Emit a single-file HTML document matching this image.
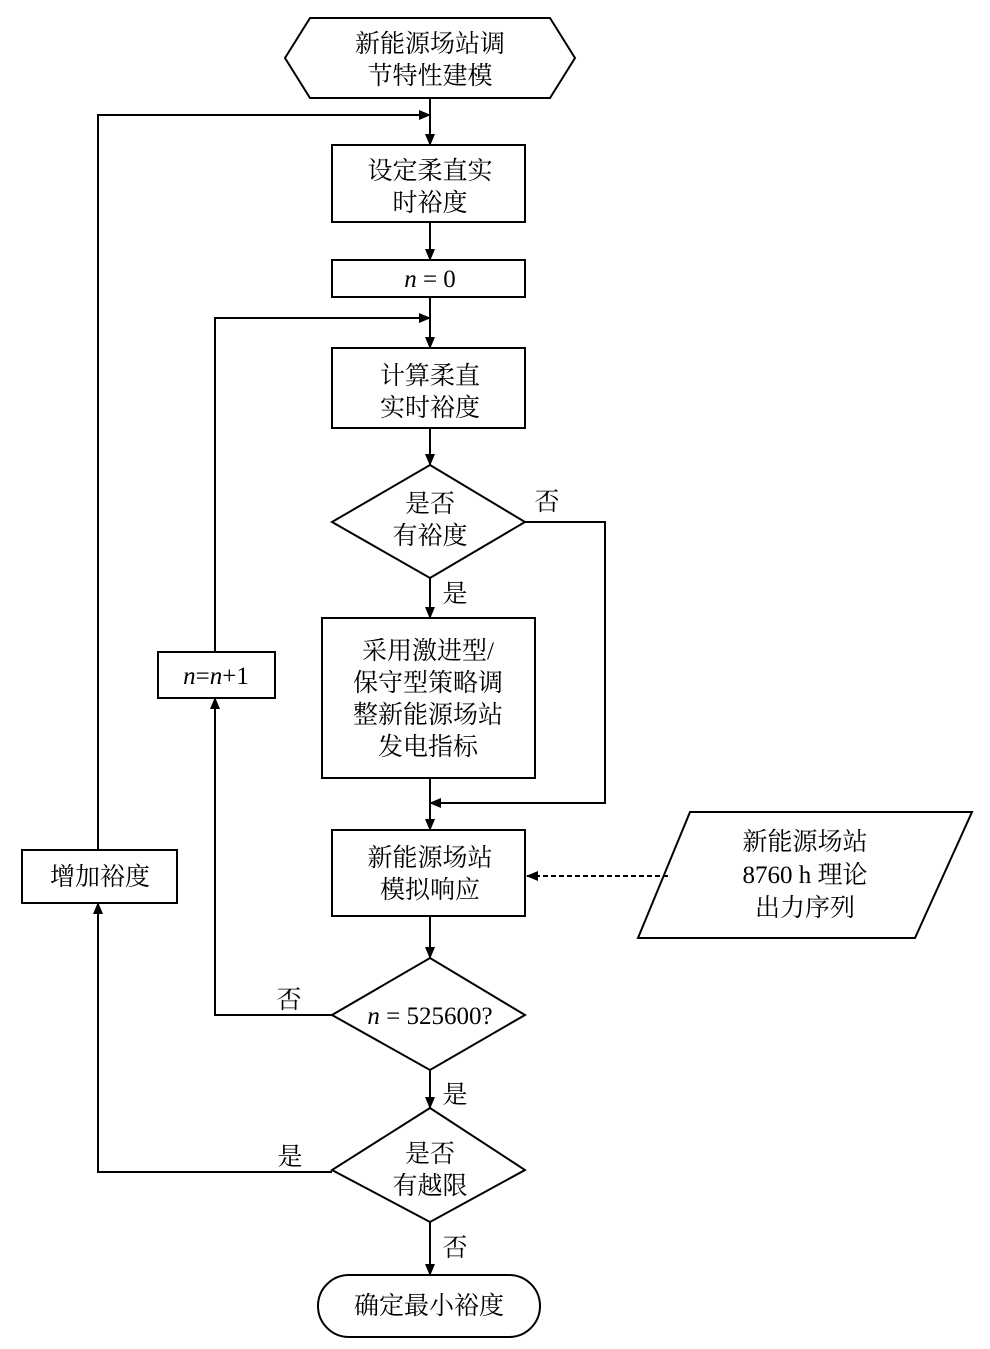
<!DOCTYPE html>
<html><head><meta charset="utf-8"><style>
html,body{margin:0;padding:0;background:#fff;}
svg{display:block;}
text{font-family:"Liberation Serif","Noto Serif CJK SC",serif;font-size:25px;fill:#000;text-anchor:middle;}
</style></head><body>
<svg width="990" height="1349" viewBox="0 0 990 1349" xmlns="http://www.w3.org/2000/svg">
<defs><marker id="a" markerWidth="12" markerHeight="10" refX="11" refY="5" orient="auto" markerUnits="userSpaceOnUse"><path d="M0,0 L12,5 L0,10 Z" fill="#000"/></marker></defs>
<g fill="none" stroke="#000" stroke-width="2">
<polygon points="285,58 310,18 550,18 575,58 550,98 310,98"/>
<rect x="332" y="145" width="193" height="77"/>
<rect x="332" y="260" width="193" height="37"/>
<rect x="332" y="348" width="193" height="80"/>
<polygon points="430,465 525,522 430,578 332,522"/>
<rect x="322" y="618" width="213" height="160"/>
<rect x="332" y="830" width="193" height="86"/>
<polygon points="690,812 972,812 915,938 638,938"/>
<polygon points="430,958 525,1015 430,1070 332,1015"/>
<polygon points="430,1108 525,1170 430,1222 332,1170"/>
<rect x="318" y="1275" width="222" height="62" rx="31"/>
<rect x="158" y="652" width="117" height="46"/>
<rect x="22" y="850" width="155" height="53"/>
<g marker-end="url(#a)">
<line x1="430" y1="98" x2="430" y2="145"/>
<line x1="430" y1="222" x2="430" y2="260"/>
<line x1="430" y1="297" x2="430" y2="348"/>
<line x1="430" y1="428" x2="430" y2="465"/>
<line x1="430" y1="578" x2="430" y2="618"/>
<line x1="430" y1="778" x2="430" y2="830"/>
<line x1="430" y1="916" x2="430" y2="958"/>
<line x1="430" y1="1070" x2="430" y2="1108"/>
<line x1="430" y1="1222" x2="430" y2="1275"/>
<polyline points="525,522 605,522 605,803 430,803"/>
<polyline points="332,1015 215,1015 215,698"/>
<polyline points="215,652 215,318 430,318"/>
<polyline points="332,1172 98,1172 98,903"/>
<polyline points="98,850 98,115 430,115"/>
<line x1="668" y1="876" x2="527" y2="876" stroke-dasharray="5,3"/>
</g>
</g>
<text x="430" y="52">新能源场站调</text>
<text x="430" y="84">节特性建模</text>
<text x="430" y="179">设定柔直实</text>
<text x="430" y="211">时裕度</text>
<text x="430" y="287"><tspan font-style="italic">n</tspan> = 0</text>
<text x="430" y="384">计算柔直</text>
<text x="430" y="416">实时裕度</text>
<text x="430" y="512">是否</text>
<text x="430" y="544">有裕度</text>
<text x="547" y="510">否</text>
<text x="455" y="602">是</text>
<text x="428" y="659">采用激进型/</text>
<text x="428" y="691">保守型策略调</text>
<text x="428" y="723">整新能源场站</text>
<text x="428" y="755">发电指标</text>
<text x="430" y="866">新能源场站</text>
<text x="430" y="898">模拟响应</text>
<text x="805" y="850">新能源场站</text>
<text x="805" y="883">8760 h 理论</text>
<text x="805" y="916">出力序列</text>
<text x="430" y="1024"><tspan font-style="italic">n</tspan> = 525600?</text>
<text x="289" y="1008">否</text>
<text x="455" y="1103">是</text>
<text x="430" y="1162">是否</text>
<text x="430" y="1194">有越限</text>
<text x="290" y="1165">是</text>
<text x="455" y="1256">否</text>
<text x="429" y="1314">确定最小裕度</text>
<text x="216" y="684"><tspan font-style="italic">n</tspan>=<tspan font-style="italic">n</tspan>+1</text>
<text x="100" y="885">增加裕度</text>
</svg>
</body></html>
